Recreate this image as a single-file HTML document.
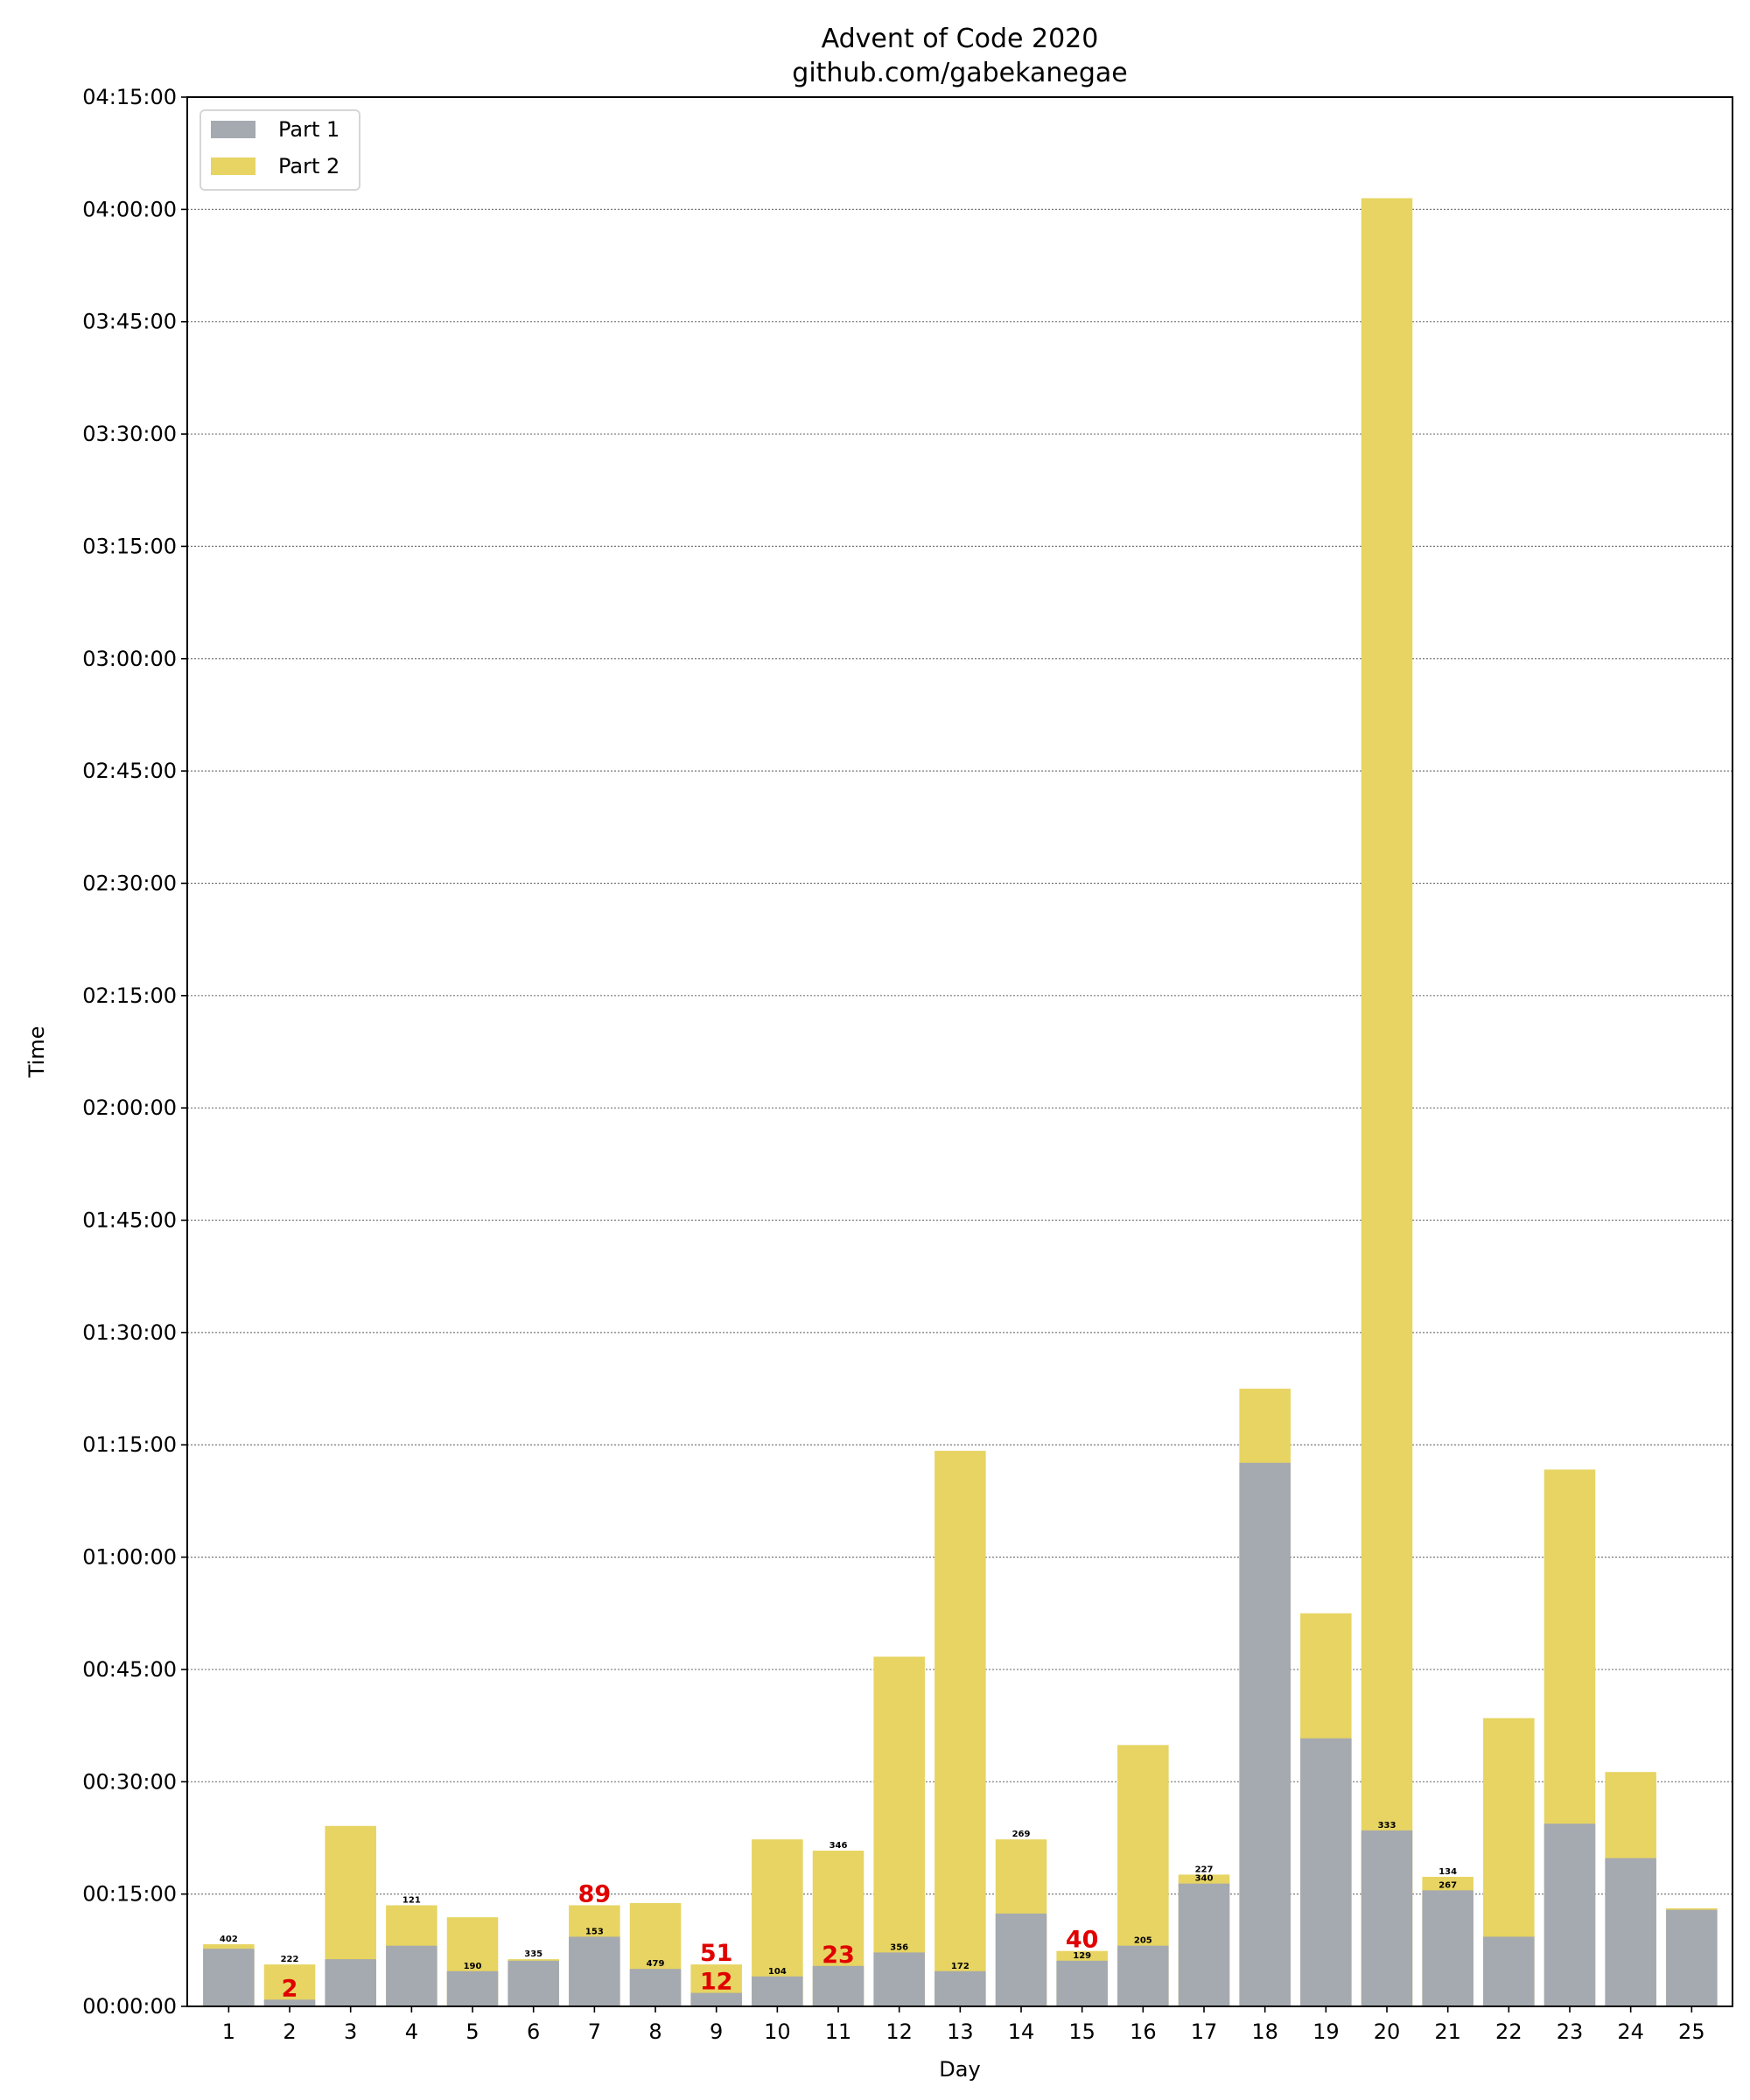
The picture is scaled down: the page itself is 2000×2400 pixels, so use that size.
<!DOCTYPE html>
<html><head><meta charset="utf-8"><style>
html,body{margin:0;padding:0;background:#fff}
svg{display:block;font-family:"DejaVu Sans","Liberation Sans",sans-serif}
</style></head><body>
<svg id="chart" width="2000" height="2400" viewBox="0 0 2000 2400" xmlns="http://www.w3.org/2000/svg">
<rect width="2000" height="2400" fill="#fff"/>
<text x="1097" y="54" font-size="30" text-anchor="middle">Advent of Code 2020</text>
<text x="1097" y="93" font-size="30" text-anchor="middle">github.com/gabekanegae</text>
<g id="grid"></g>
<g id="bars"></g>
<g id="labels"></g>
<g id="axes"></g>
<text x="0" y="0" font-size="24" text-anchor="middle" transform="translate(50,1202) rotate(-90)">Time</text>
<text x="1097" y="2373" font-size="24" text-anchor="middle">Day</text>
<g>
<rect x="229" y="126" width="182" height="91" rx="5" fill="#fff" stroke="#d6d6d6" stroke-width="2"/>
<rect x="241" y="138" width="51" height="20" fill="#a5a9b0"/>
<text x="318" y="156" font-size="24">Part 1</text>
<rect x="241" y="180" width="51" height="20" fill="#e7d462"/>
<text x="318" y="198" font-size="24">Part 2</text>
</g>
</svg>
<script>
const days = [1,2,3,4,5,6,7,8,9,10,11,12,13,14,15,16,17,18,19,20,21,22,23,24,25];
const part1Minutes = [7.7,0.9,6.3,8.1,4.7,6.1,9.3,5.0,1.8,4.0,5.4,7.2,4.7,12.4,6.1,8.1,16.4,72.6,35.8,23.5,15.5,9.3,24.4,19.8,12.9];
const totalMinutes = [8.3,5.6,24.1,13.5,11.9,6.3,13.5,13.8,5.6,22.3,20.8,46.7,74.2,22.3,7.4,34.9,17.6,82.5,52.5,241.5,17.3,38.5,71.7,31.3,13.1];
const part1Rank = [null,2,null,null,190,null,153,479,12,104,23,356,172,null,129,205,340,null,null,333,267,null,null,null,null];
const part2Rank = [402,222,null,121,null,335,89,null,51,null,346,null,null,269,40,null,227,null,null,null,134,null,null,null,null];
const yTicks = [0,15,30,45,60,75,90,105,120,135,150,165,180,195,210,225,240,255];

const L=214,R=1980,T=111,B=2293, xmin=0.32, xmax=25.67, ymax=255;
const NS="http://www.w3.org/2000/svg";
const xs = d => L + (d - xmin) / (xmax - xmin) * (R - L);
const ys = m => B - m / ymax * (B - T);
const bw = 0.84 * (R - L) / (xmax - xmin);
function mk(tag, attrs, parent){const e=document.createElementNS(NS,tag);for(const k in attrs)e.setAttribute(k,attrs[k]);parent.appendChild(e);return e;}
const fmt = m => { const h=Math.floor(m/60), mm=m%60; return String(h).padStart(2,'0')+':'+String(mm).padStart(2,'0')+':00'; };

const grid=document.getElementById('grid'), bars=document.getElementById('bars'), labels=document.getElementById('labels'), axes=document.getElementById('axes');
yTicks.forEach(t=>{
  const y=ys(t);
  if(t>0 && t<ymax){
    const g=mk('line',{x1:L,x2:R,y1:y,y2:y,stroke:'#777','stroke-width':1.2,'stroke-dasharray':'2,2'},grid);
    
    
  }
  const tk=mk('line',{x1:L-7,x2:L,y1:y,y2:y,stroke:'#000','stroke-width':1.6},axes);
  
  
  const tl=mk('text',{x:L-12,y:y+8,'font-size':24,'text-anchor':'end'},axes);
  tl.textContent=fmt(t);
  
  
});
days.forEach((d,i)=>{
  const cx=xs(d);
  const b2=mk('rect',{x:cx-bw/2,y:ys(totalMinutes[i]),width:bw,height:ys(0)-ys(totalMinutes[i]),fill:'#e7d462'},bars);
  
  
  const b1=mk('rect',{x:cx-bw/2,y:ys(part1Minutes[i]),width:bw,height:ys(0)-ys(part1Minutes[i]),fill:'#a5a9b0'},bars);
  
  
  [[part1Rank[i],part1Minutes[i]],[part2Rank[i],totalMinutes[i]]].forEach(([r,m],k)=>{
    if(r==null) return;
    const red=r<=100;
    const t=mk('text',{x:cx,y:ys(m)-(red?4:3),'font-size':red?27:10,'font-weight':'bold','text-anchor':'middle',fill:red?'#e00000':'#000'},labels);
    t.textContent=r;
    
    
  });
  const tk=mk('line',{x1:cx,x2:cx,y1:B,y2:B+7,stroke:'#000','stroke-width':1.6},axes);
  
  
  const tl=mk('text',{x:cx,y:B+37,'font-size':24,'text-anchor':'middle'},axes);
  tl.textContent=d;
  
  
});
const fr=mk('rect',{x:L,y:T,width:R-L,height:B-T,fill:'none',stroke:'#000','stroke-width':2},axes);


</script>
</body></html>
